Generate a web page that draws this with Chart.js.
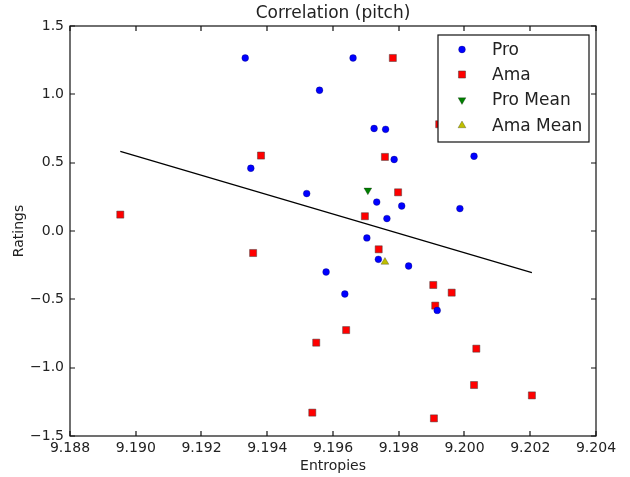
<!DOCTYPE html>
<html>
<head>
<meta charset="utf-8">
<script src="https://cdn.jsdelivr.net/npm/chart.js@4.4.1/dist/chart.umd.min.js"></script>
<style>
  html, body { margin: 0; padding: 0; background: #fff; }
  #wrap { width: 630px; height: 477px; }
</style>
</head>
<body>
<div id="wrap"><canvas id="corrChart" width="630" height="477"></canvas></div>
<script>
// Pro ratings vs entropy
var proX = [9.19333, 9.19559, 9.19350, 9.19520, 9.19661, 9.19725, 9.19760, 9.19786, 9.20029, 9.19733,
            9.19809, 9.19986, 9.19764, 9.19703, 9.19738, 9.19830, 9.19917, 9.19636, 9.19579];
var proY = [1.266, 1.030, 0.459, 0.274, 1.266, 0.750, 0.744, 0.523, 0.547, 0.212,
            0.183, 0.164, 0.091, -0.051, -0.207, -0.256, -0.581, -0.461, -0.300];

// Ama ratings vs entropy
var amaX = [9.19381, 9.18953, 9.19782, 9.19923, 9.19758, 9.19798, 9.19697, 9.19739, 9.19905, 9.19961,
            9.19911, 9.19640, 9.20036, 9.20029, 9.20205, 9.19907, 9.19357, 9.19549, 9.19537];
var amaY = [0.552, 0.120, 1.266, 0.781, 0.542, 0.283, 0.108, -0.134, -0.395, -0.451,
            -0.546, -0.725, -0.861, -1.127, -1.203, -1.371, -0.161, -0.817, -1.329];

// means
var proMeanX = [9.19706];
var proMeanY = [0.298];
var amaMeanX = [9.19758];
var amaMeanY = [-0.227];

// regression line end points
var fitX = [9.18953, 9.20205];
var fitY = [0.583, -0.305];

// tick labels
var xTicks = [9.188, 9.190, 9.192, 9.194, 9.196, 9.198, 9.200, 9.202, 9.204];
var yTicks = [-1.5, -1.0, -0.5, 0.0, 0.5, 1.0, 1.5];

var FONT = "'DejaVu Sans', sans-serif";
var TXT = "#222";

function pts(xs, ys) {
    return xs.map((x, i) => ({ x: x, y: ys[i] }));
}

var datasets = [
    { label: "Pro", data: pts(proX, proY), pointStyle: "circle", pointRadius: 3.4,
      backgroundColor: "#0000ff", borderColor: "rgba(0,0,80,0.6)", borderWidth: 0.5 },
    { label: "Ama", data: pts(amaX, amaY), pointStyle: "rect", pointRadius: 5,
      backgroundColor: "#ff0000", borderColor: "rgba(60,60,60,0.6)", borderWidth: 0.8 },
    { label: "Pro Mean", data: pts(proMeanX, proMeanY), pointStyle: "triangle", pointRotation: 180, pointRadius: 4.5,
      backgroundColor: "#008000", borderColor: "rgba(0,0,0,0.5)", borderWidth: 0.5 },
    { label: "Ama Mean", data: pts(amaMeanX, amaMeanY), pointStyle: "triangle", pointRadius: 4.5,
      backgroundColor: "#bfbf00", borderColor: "rgba(0,0,0,0.5)", borderWidth: 0.5 },
    { label: "fit", data: pts(fitX, fitY), showLine: true, pointRadius: 0,
      borderColor: "#000", borderWidth: 1.2, backgroundColor: "#000" }
];

// frame, inward ticks, title, axis labels and legend box
var decorPlugin = {
    id: "decor",
    afterDraw(chart) {
        var ctx = chart.ctx, a = chart.chartArea;
        var xs = chart.scales.x, ys = chart.scales.y;
        ctx.save();
        ctx.strokeStyle = "#111";
        ctx.lineWidth = 1.2;
        ctx.beginPath();
        xTicks.forEach(v => {
            var px = Math.round(xs.getPixelForValue(v));
            ctx.moveTo(px, a.bottom); ctx.lineTo(px, a.bottom - 5);
            ctx.moveTo(px, a.top); ctx.lineTo(px, a.top + 5);
        });
        yTicks.forEach(v => {
            var py = Math.round(ys.getPixelForValue(v));
            ctx.moveTo(a.left, py); ctx.lineTo(a.left + 5, py);
            ctx.moveTo(a.right, py); ctx.lineTo(a.right - 5, py);
        });
        ctx.stroke();
        ctx.strokeRect(Math.round(a.left), Math.round(a.top),
                       Math.round(a.right - a.left), Math.round(a.bottom - a.top));

        // title + axis labels
        ctx.fillStyle = TXT;
        ctx.textAlign = "center";
        ctx.textBaseline = "middle";
        ctx.font = "17px " + FONT;
        ctx.fillText("Correlation (pitch)", (a.left + a.right) / 2, 14);
        ctx.font = "14px " + FONT;
        ctx.fillText("Entropies", (a.left + a.right) / 2, 466);
        ctx.translate(19, (a.top + a.bottom) / 2);
        ctx.rotate(-Math.PI / 2);
        ctx.fillText("Ratings", 0, 0);
        ctx.restore();

        // legend
        ctx.save();
        var bx = 438, by = 35, bw = 151, bh = 107;
        ctx.fillStyle = "#fff";
        ctx.fillRect(bx, by, bw, bh);
        ctx.strokeStyle = "#111";
        ctx.lineWidth = 1.2;
        ctx.strokeRect(bx, by, bw, bh);
        var rows = [49.5, 74.5, 100, 125.5];
        ctx.font = "17px " + FONT;
        ctx.textAlign = "left";
        ctx.textBaseline = "middle";
        for (var i = 0; i < 4; i++) {
            var ds = datasets[i];
            ctx.fillStyle = ds.backgroundColor;
            ctx.strokeStyle = ds.borderColor;
            ctx.lineWidth = ds.borderWidth;
            Chart.helpers.drawPoint(ctx, {
                pointStyle: ds.pointStyle, rotation: ds.pointRotation || 0,
                radius: ds.pointRadius, borderWidth: ds.borderWidth
            }, 462, rows[i]);
            ctx.fillStyle = TXT;
            ctx.fillText(ds.label, 492, rows[i] + 1);
        }
        ctx.restore();
    }
};

var chart = new Chart(document.getElementById("corrChart"), {
    type: "scatter",
    data: { datasets: datasets },
    options: {
        responsive: false,
        animation: false,
        devicePixelRatio: 1,
        layout: { padding: { left: 0, top: 26, right: 34, bottom: 0 } },
        scales: {
            x: {
                type: "linear", min: 9.188, max: 9.204,
                grid: { display: false, drawTicks: false },
                border: { display: false },
                afterBuildTicks: s => { s.ticks = xTicks.map(v => ({ value: v })); },
                afterFit: s => { s.height = 41; },
                ticks: { color: TXT, font: { family: FONT, size: 14 }, padding: 4,
                         maxRotation: 0, autoSkip: false,
                         callback: v => v.toFixed(3) }
            },
            y: {
                type: "linear", min: -1.5, max: 1.5,
                grid: { display: false, drawTicks: false },
                border: { display: false },
                afterBuildTicks: s => { s.ticks = yTicks.map(v => ({ value: v })); },
                afterFit: s => { s.width = 70; },
                ticks: { color: TXT, font: { family: FONT, size: 14 }, padding: 6,
                         autoSkip: false,
                         callback: v => v.toFixed(1).replace("-", "\u2212") }
            }
        },
        plugins: {
            legend: { display: false },
            title: { display: false },
            tooltip: { enabled: false }
        }
    },
    plugins: [decorPlugin]
});
</script>
</body>
</html>
